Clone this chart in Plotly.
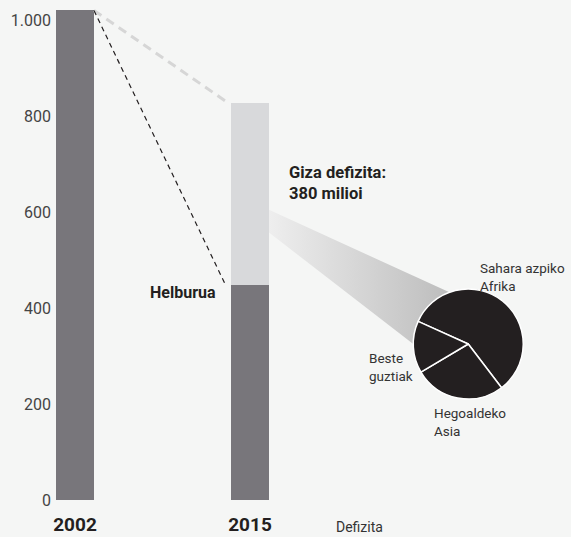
import math
import plotly.graph_objects as go

# values (millions of people)
years = ["2002", "2015"]
target = [1020, 447]      # dark part: 2002 total, 2015 goal
deficit = [0, 380]        # light part: human deficit in 2015
regions = ["Sahara azpiko<br>Afrika", "Hegoaldeko<br>Asia", "Beste<br>guztiak"]
region_values = [220, 102, 58]
yticks = [0, 200, 400, 600, 800, 1000]
ytick_labels = ["0", "200", "400", "600", "800", "1.000"]

FONT = "Roboto, Liberation Sans, sans-serif"
DARK = "#78767b"
LIGHT = "#d8d9db"
INK = "#231f20"
BG = "#f5f6f5"

# plot area / axis layout
W, H = 519, 500
xpos = [0, 1]
bw = 0.217
x0, x1 = -0.1314, 2.8343
ymax = 1041.7

# pie placement (paper fractions) and radius in px
pcx, pcy, R = 0.802, 0.312, 55


def pie_pt(angle_deg, scale=1.0):
    cx = x0 + pcx * (x1 - x0)
    cy = pcy * ymax
    rx = R / W * (x1 - x0) * scale
    ry = R / H * ymax * scale
    a = math.radians(angle_deg)
    return cx + rx * math.cos(a), cy + ry * math.sin(a)


def pie_label(dx, dy):
    return pcx + dx / W, pcy - dy / H


fig = go.Figure()

# grey cone from the deficit segment to the pie
bx = xpos[1] + bw / 2
top = pie_pt(110)
mid = pie_pt(0, 0)
bot = pie_pt(180)
cone_x = [bx, top[0], mid[0], bot[0], bx, bx]
cone_y = [target[1] + 0.415 * deficit[1], top[1], mid[1], bot[1],
          target[1] + 0.29 * deficit[1], target[1] + 0.415 * deficit[1]]
fig.add_trace(go.Scatter(x=cone_x, y=cone_y, mode="lines", fill="toself",
                         line=dict(width=0),
                         fillgradient=dict(type="horizontal",
                                           colorscale=[[0, "#eeeeee"], [1, "#b8b8b8"]]),
                         hoverinfo="skip", showlegend=False))

fig.add_trace(go.Bar(x=xpos, y=target, width=bw, marker_color=DARK,
                     marker_line_width=0, showlegend=False))
fig.add_trace(go.Bar(x=xpos, y=deficit, width=bw, marker_color=LIGHT,
                     marker_line_width=0, showlegend=False))

# dashed guide lines
fig.add_trace(go.Scatter(x=[xpos[0] + bw / 2, xpos[1] - bw / 2 - 0.015],
                         y=[target[0], target[1] + deficit[1]],
                         mode="lines", line=dict(color="#d6d6d6", width=3, dash="9px,6px"),
                         hoverinfo="skip", showlegend=False))
fig.add_trace(go.Scatter(x=[xpos[0] + bw / 2, xpos[1] - bw / 2 - 0.03],
                         y=[target[0], target[1]],
                         mode="lines", line=dict(color=INK, width=1.2, dash="5px,4px"),
                         hoverinfo="skip", showlegend=False))

fig.add_trace(go.Pie(labels=regions, values=region_values, sort=False,
                     direction="clockwise", rotation=-65.7, textinfo="none",
                     marker=dict(colors=[INK] * 3, line=dict(color="white", width=1.5)),
                     domain=dict(x=[pcx - R / W, pcx + R / W], y=[pcy - R / H, pcy + R / H]),
                     showlegend=False, hoverinfo="label+value"))

ann = []
ann.append(dict(x=xpos[1] - bw / 2, y=target[1], xref="x", yref="y",
                text="<b>Helburua</b>", showarrow=False, xanchor="right", yanchor="middle",
                xshift=-13, yshift=-7, font=dict(size=16, color=INK)))
ann.append(dict(x=xpos[1] + bw / 2, y=target[1] + 0.56 * deficit[1], xref="x", yref="y",
                text="<b>Giza defizita:<br>380 milioi</b>", showarrow=False, xanchor="left",
                yanchor="middle", align="left", xshift=18, font=dict(size=16.5, color=INK)))
# pie labels: (anchor, dx, dy) in px from the pie centre
for text, (anchor, dx, dy) in zip(regions, [("right", 99, -66.5), ("left", -36.3, 78),
                                            ("left", -101.3, 22.5)]):
    lx, ly = pie_label(dx, dy)
    ann.append(dict(x=lx, y=ly, xref="paper", yref="paper", text=text, showarrow=False,
                    xanchor=anchor, yanchor="middle", align="left",
                    font=dict(size=13.5, color="#333333")))
ann.append(dict(x=(334 - 52) / W, y=-27 / H, xref="paper", yref="paper", text="Defizita",
                showarrow=False, xanchor="left", yanchor="middle",
                font=dict(size=14, color="#333333")))

fig.update_layout(
    width=571, height=537,
    margin=dict(l=52, r=0, t=0, b=37),
    paper_bgcolor=BG, plot_bgcolor=BG,
    barmode="stack", bargap=0,
    font=dict(family=FONT, color="#444444"),
    annotations=ann,
    xaxis=dict(range=[x0, x1], tickvals=xpos, ticktext=["<b>%s</b>" % y for y in years],
               tickfont=dict(size=19, color=INK), showgrid=False, zeroline=False,
               showline=False, ticks="", ticklabelstandoff=11),
    yaxis=dict(range=[0, ymax], tickvals=yticks, ticktext=ytick_labels,
               tickfont=dict(size=16, color="#444444"), showgrid=False, zeroline=False,
               showline=False, ticks=""),
)

fig.write_html("out.html", config={"displayModeBar": False},
               post_script="document.body.style.margin='0px';")
